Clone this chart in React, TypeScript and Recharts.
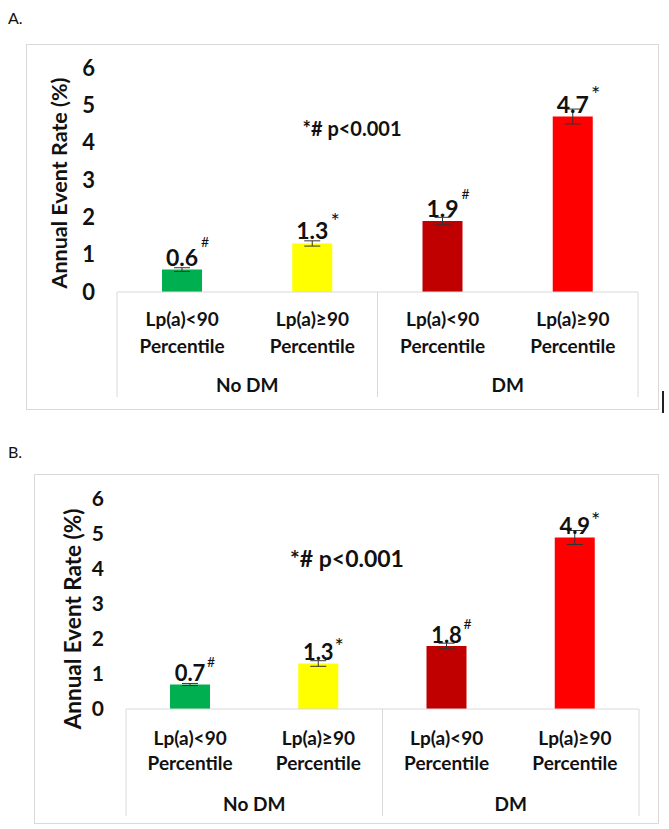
import { BarChart, Bar, XAxis, YAxis, Cell, ErrorBar, LabelList } from 'recharts';

const CATEGORIES = ['Lp(a)<90', 'Lp(a)≥90', 'Lp(a)<90', 'Lp(a)≥90'];
const GROUPS = ['No DM', 'No DM', 'DM', 'DM'];
const COLORS = ['#00b050', '#ffff00', '#c00000', '#ff0000'];
const Y_TICKS = [0, 1, 2, 3, 4, 5, 6];
const Y_TITLE = 'Annual Event Rate (%)';
const P_NOTE = '*# p<0.001';

// panel A
const RATES_A = [0.6, 1.3, 1.9, 4.7];
const ERRORS_A = [0.05, 0.07, 0.1, 0.2];
const MARKS_A = ['#', '*', '#', '*'];

// panel B
const RATES_B = [0.7, 1.3, 1.8, 4.9];
const ERRORS_B = [0.03, 0.08, 0.08, 0.2];
const MARKS_B = ['#', '*', '#', '*'];

const FONT = 'Lato, "Open Sans", sans-serif';
const INK = '#111';
const LINE = '#d9d9d9';

const makeData = (rates: number[], errs: number[]) =>
  CATEGORIES.map((name, i) => ({ name, group: GROUPS[i], rate: rates[i], err: errs[i] }));

interface PanelCfg {
  left: number;
  top: number;
  width: number;
  height: number;
  yAxisWidth: number;
  margin: { top: number; right: number; bottom: number; left: number };
  axisBoxH: number;
  line1: number;
  line2: number;
  groupY: number;
  tickSize: number;
  catSize: number;
  titleSize: number;
  titleX: number;
  titleDy: number;
  valSize: number;
  valDy: number;
  markSize: number;
  markDx: number;
  markDy: number;
}

const CategoryTick = ({ x, y, payload, index, cfg }: any) => {
  const half = payload?.offset ?? 0;
  const txt = { textAnchor: 'middle' as const, dominantBaseline: 'central' as const, fontSize: cfg.catSize, fontWeight: 700, fill: INK, fontFamily: FONT };
  return (
    <g>
      {(index === 0 || index === 2) && (
        <line x1={x - half} y1={y} x2={x - half} y2={y + cfg.axisBoxH} stroke={LINE} />
      )}
      {index === 3 && <line x1={x + half} y1={y} x2={x + half} y2={y + cfg.axisBoxH} stroke={LINE} />}
      <text x={x} y={y + cfg.line1} {...txt}>{payload.value}</text>
      <text x={x} y={y + cfg.line2} {...txt}>Percentile</text>
      {(index === 0 || index === 2) && (
        <text x={x + half} y={y + cfg.groupY} {...txt}>{GROUPS[index]}</text>
      )}
    </g>
  );
};

function Panel({ rates, errs, marks, cfg }: { rates: number[]; errs: number[]; marks: string[]; cfg: PanelCfg }) {
  const data = makeData(rates, errs);

  const renderValue = (p: any) => {
    const vb = p.viewBox && p.viewBox.width !== undefined ? p.viewBox : p;
    const cx = vb.x + vb.width / 2;
    const top = vb.y;
    const mark = marks[p.index];
    // the asterisk glyph sits high and small, so it gets a bigger size and a nudge down
    const star = mark === '*';
    return (
      <g>
        <text x={cx} y={top - cfg.valDy} textAnchor="middle" dominantBaseline="central" fontSize={cfg.valSize} fontWeight={700} fill={INK} fontFamily={FONT}>
          {Number(p.value).toFixed(1)}
        </text>
        <text
          x={cx + cfg.markDx}
          y={top - cfg.markDy + (star ? 5 : 0)}
          textAnchor="middle"
          dominantBaseline="central"
          fontSize={star ? cfg.markSize + 8 : cfg.markSize}
          fill={INK}
          fontFamily={FONT}
        >
          {mark}
        </text>
      </g>
    );
  };

  const renderTitle = (p: any) => {
    const vb = p.viewBox || { y: 0, height: 0 };
    const cx = cfg.titleX;
    const cy = vb.y + vb.height / 2 + cfg.titleDy;
    return (
      <text x={cx} y={cy} transform={`rotate(-90 ${cx} ${cy})`} textAnchor="middle" dominantBaseline="central" fontSize={cfg.titleSize} fontWeight={700} fill={INK} fontFamily={FONT}>
        {Y_TITLE}
      </text>
    );
  };

  return (
    <div style={{ position: 'absolute', left: cfg.left, top: cfg.top, width: cfg.width, height: cfg.height }}>
      <div style={{ position: 'absolute', inset: 0, border: `1px solid ${LINE}`, boxSizing: 'border-box' }} />
      <BarChart width={cfg.width} height={cfg.height} data={data} margin={cfg.margin} barSize={40}>
        <XAxis
          dataKey="name"
          interval={0}
          axisLine={{ stroke: LINE }}
          tickLine={false}
          tickSize={0}
          tickMargin={0}
          height={cfg.axisBoxH}
          tick={<CategoryTick cfg={cfg} />}
        />
        <YAxis
          domain={[0, 6]}
          ticks={Y_TICKS}
          width={cfg.yAxisWidth}
          axisLine={false}
          tickLine={false}
          tickSize={0}
          tickMargin={22}
          tick={{ fontSize: cfg.tickSize, fontWeight: 700, fill: INK, fontFamily: FONT }}
          label={{ content: renderTitle }}
        />
        <Bar dataKey="rate" isAnimationActive={false}>
          {data.map((_, i) => (
            <Cell key={`c-${i}`} fill={COLORS[i]} />
          ))}
          <ErrorBar dataKey="err" width={8} stroke="#333" strokeWidth={1} direction="y" isAnimationActive={false} />
          <LabelList dataKey="rate" content={renderValue} />
        </Bar>
      </BarChart>
    </div>
  );
}

const CFG_A: PanelCfg = {
  left: 26, top: 44, width: 633, height: 366,
  yAxisWidth: 91,
  margin: { top: 24, right: 21, bottom: 13, left: 0 },
  axisBoxH: 105, line1: 26, line2: 53, groupY: 92,
  tickSize: 22, catSize: 19, titleSize: 21.5, titleX: 33, titleDy: 3,
  valSize: 23, valDy: 13, markSize: 14, markDx: 23, markDy: 28,
};

const CFG_B: PanelCfg = {
  left: 34, top: 474, width: 625, height: 350,
  yAxisWidth: 92,
  margin: { top: 25, right: 20, bottom: 8, left: 0 },
  axisBoxH: 107, line1: 28, line2: 53, groupY: 94,
  tickSize: 21, catSize: 19, titleSize: 22.5, titleX: 38, titleDy: 15,
  valSize: 22, valDy: 12, markSize: 14, markDx: 21, markDy: 23,
};

export default function App() {
  return (
    <div style={{ position: 'absolute', left: 0, top: 0, width: 669, height: 829, background: '#fff', fontFamily: FONT, color: INK }}>
      <div style={{ position: 'absolute', left: 8, top: 9, fontSize: 16, lineHeight: '18px' }}>A.</div>
      <Panel rates={RATES_A} errs={ERRORS_A} marks={MARKS_A} cfg={CFG_A} />
      <div style={{ position: 'absolute', left: 302, top: 116, width: 100, textAlign: 'center', fontSize: 20, fontWeight: 700, lineHeight: '24px' }}>
        {P_NOTE}
      </div>
      <div style={{ position: 'absolute', left: 662, top: 391, width: 2, height: 22, background: '#222' }} />

      <div style={{ position: 'absolute', left: 8, top: 443, fontSize: 16, lineHeight: '18px' }}>B.</div>
      <Panel rates={RATES_B} errs={ERRORS_B} marks={MARKS_B} cfg={CFG_B} />
      <div style={{ position: 'absolute', left: 287, top: 544, width: 120, textAlign: 'center', fontSize: 23, fontWeight: 700, lineHeight: '28px' }}>
        {P_NOTE}
      </div>
    </div>
  );
}
